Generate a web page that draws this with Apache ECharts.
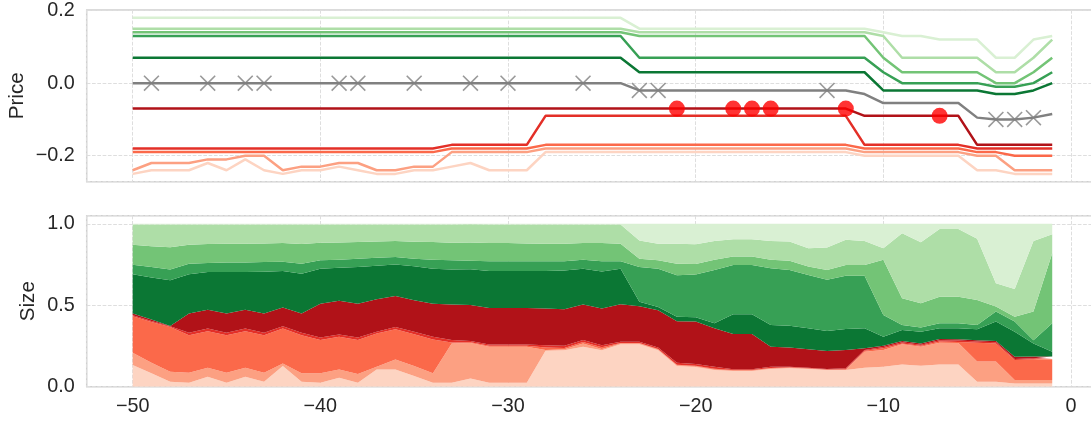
<!DOCTYPE html>
<html><head><meta charset="utf-8">
<script src="https://cdn.jsdelivr.net/npm/echarts@6/dist/echarts.min.js"></script>
<style>html,body{margin:0;padding:0;background:#fff}#c{width:1091px;height:421px}</style>
</head><body><div id="c"></div>
<script>
const times = [-50,-49,-48,-47,-46,-45,-44,-43,-42,-41,-40,-39,-38,-37,-36,-35,-34,-33,-32,-31,-30,-29,-28,-27,-26,-25,-24,-23,-22,-21,-20,-19,-18,-17,-16,-15,-14,-13,-12,-11,-10,-9,-8,-7,-6,-5,-4,-3,-2,-1];

// Price levels (top panel)
const ask1Price = [0.07,0.07,0.07,0.07,0.07,0.07,0.07,0.07,0.07,0.07, 0.07,0.07,0.07,0.07,0.07,0.07,0.07,0.07,0.07,0.07, 0.07,0.07,0.07,0.07,0.07,0.07,0.07,0.03,0.03,0.03, 0.03,0.03,0.03,0.03,0.03,0.03,0.03,0.03,0.03,0.03, -0.02,-0.02,-0.02,-0.02,-0.02,-0.02,-0.03,-0.03,-0.02,0.00];
const ask2Price = [0.13,0.13,0.13,0.13,0.13,0.13,0.13,0.13,0.13,0.13, 0.13,0.13,0.13,0.13,0.13,0.13,0.13,0.13,0.13,0.13, 0.13,0.13,0.13,0.13,0.13,0.13,0.13,0.07,0.07,0.07, 0.07,0.07,0.07,0.07,0.07,0.07,0.07,0.07,0.07,0.07, 0.03,0.00,0.00,0.00,0.00,0.00,-0.01,-0.01,0.00,0.03];
const ask3Price = [0.14,0.14,0.14,0.14,0.14,0.14,0.14,0.14,0.14,0.14, 0.14,0.14,0.14,0.14,0.14,0.14,0.14,0.14,0.14,0.14, 0.14,0.14,0.14,0.14,0.14,0.14,0.14,0.13,0.13,0.13, 0.13,0.13,0.13,0.13,0.13,0.13,0.13,0.13,0.13,0.13, 0.07,0.03,0.03,0.03,0.03,0.03,0.00,0.00,0.03,0.07];
const ask4Price = [0.15,0.15,0.15,0.15,0.15,0.15,0.15,0.15,0.15,0.15, 0.15,0.15,0.15,0.15,0.15,0.15,0.15,0.15,0.15,0.15, 0.15,0.15,0.15,0.15,0.15,0.15,0.15,0.14,0.14,0.14, 0.14,0.14,0.14,0.14,0.14,0.14,0.14,0.14,0.14,0.14, 0.13,0.07,0.07,0.07,0.07,0.07,0.03,0.03,0.07,0.12];
const ask5Price = [0.18,0.18,0.18,0.18,0.18,0.18,0.18,0.18,0.18,0.18, 0.18,0.18,0.18,0.18,0.18,0.18,0.18,0.18,0.18,0.18, 0.18,0.18,0.18,0.18,0.18,0.18,0.18,0.15,0.15,0.15, 0.15,0.15,0.15,0.15,0.15,0.15,0.15,0.15,0.15,0.15, 0.14,0.13,0.13,0.12,0.12,0.12,0.07,0.07,0.12,0.13];
const bid1Price = [-0.07,-0.07,-0.07,-0.07,-0.07,-0.07,-0.07,-0.07,-0.07,-0.07, -0.07,-0.07,-0.07,-0.07,-0.07,-0.07,-0.07,-0.07,-0.07,-0.07, -0.07,-0.07,-0.07,-0.07,-0.07,-0.07,-0.07,-0.07,-0.07,-0.07, -0.07,-0.07,-0.07,-0.07,-0.07,-0.07,-0.07,-0.07,-0.07,-0.09, -0.09,-0.09,-0.09,-0.09,-0.09,-0.17,-0.17,-0.17,-0.17,-0.17];
const bid2Price = [-0.18,-0.18,-0.18,-0.18,-0.18,-0.18,-0.18,-0.18,-0.18,-0.18, -0.18,-0.18,-0.18,-0.18,-0.18,-0.18,-0.18,-0.17,-0.17,-0.17, -0.17,-0.17,-0.09,-0.09,-0.09,-0.09,-0.09,-0.09,-0.09,-0.09, -0.09,-0.09,-0.09,-0.09,-0.09,-0.09,-0.09,-0.09,-0.09,-0.17, -0.17,-0.17,-0.17,-0.17,-0.17,-0.18,-0.18,-0.18,-0.18,-0.18];
const bid3Price = [-0.19,-0.19,-0.19,-0.19,-0.19,-0.19,-0.19,-0.19,-0.19,-0.19, -0.19,-0.19,-0.19,-0.19,-0.19,-0.19,-0.19,-0.18,-0.18,-0.18, -0.18,-0.18,-0.17,-0.17,-0.17,-0.17,-0.17,-0.17,-0.17,-0.17, -0.17,-0.17,-0.17,-0.17,-0.17,-0.17,-0.17,-0.17,-0.17,-0.18, -0.18,-0.18,-0.18,-0.18,-0.18,-0.19,-0.19,-0.20,-0.20,-0.20];
const bid4Price = [-0.24,-0.22,-0.22,-0.22,-0.21,-0.21,-0.20,-0.20,-0.24,-0.23, -0.23,-0.22,-0.22,-0.24,-0.24,-0.23,-0.23,-0.19,-0.19,-0.19, -0.19,-0.19,-0.18,-0.18,-0.18,-0.18,-0.18,-0.18,-0.18,-0.18, -0.18,-0.18,-0.18,-0.18,-0.18,-0.18,-0.18,-0.18,-0.18,-0.19, -0.19,-0.19,-0.19,-0.19,-0.19,-0.20,-0.20,-0.24,-0.24,-0.24];
const bid5Price = [-0.25,-0.24,-0.24,-0.24,-0.22,-0.24,-0.21,-0.24,-0.25,-0.24, -0.24,-0.23,-0.24,-0.25,-0.25,-0.24,-0.24,-0.23,-0.22,-0.24, -0.24,-0.24,-0.19,-0.19,-0.19,-0.19,-0.19,-0.19,-0.19,-0.19, -0.19,-0.19,-0.19,-0.19,-0.19,-0.19,-0.19,-0.19,-0.19,-0.20, -0.20,-0.20,-0.20,-0.20,-0.20,-0.24,-0.24,-0.25,-0.25,-0.25];
const midPrice = [0,0,0,0,0,0,0,0,0,0, 0,0,0,0,0,0,0,0,0,0, 0,0,0,0,0,0,0,-0.02,-0.02,-0.02, -0.02,-0.02,-0.02,-0.02,-0.02,-0.02,-0.02,-0.02,-0.02,-0.03, -0.055,-0.055,-0.055,-0.055,-0.055,-0.095,-0.10,-0.10,-0.095,-0.085];

// event times
const crossTimes = [-49,-46,-44,-43,-39,-38,-35,-32,-30,-26,-23,-22,-13,-4,-3,-2];
const tradeTimes = [-21,-18,-17,-16,-12,-7];

// Normalised sizes (bottom panel), stacked bid5 -> ask5
const bid5Size = [0.133,0.082,0.031,0.024,0.061,0.024,0.061,0.031,0.127,0.031, 0.024,0.055,0.024,0.106,0.106,0.065,0.024,0.024,0.051,0.024, 0.024,0.024,0.220,0.224,0.245,0.224,0.261,0.261,0.224,0.127, 0.121,0.102,0.096,0.096,0.109,0.113,0.109,0.102,0.102,0.117, 0.123,0.137,0.129,0.137,0.137,0.031,0.031,0.020,0.020,0.020];
const bid4Size = [0.075,0.065,0.061,0.062,0.055,0.062,0.055,0.055,0.016,0.051, 0.058,0.051,0.054,0.016,0.061,0.062,0.058,0.241,0.218,0.221, 0.221,0.221,0.006,0.006,0.020,0.008,0.004,0.004,0.004,0.004, 0.004,0.004,0.003,0.003,0.003,0.003,0.002,0.002,0.002,0.098, 0.102,0.123,0.117,0.133,0.131,0.123,0.123,0.021,0.021,0.021];
const bid3Size = [0.225,0.251,0.275,0.230,0.225,0.230,0.225,0.230,0.214,0.234, 0.204,0.200,0.208,0.205,0.186,0.195,0.208,0.006,0.004,0.006, 0.006,0.006,0.015,0.008,0.010,0.010,0.003,0.003,0.003,0.004, 0.004,0.004,0.003,0.003,0.003,0.003,0.002,0.002,0.003,0.005, 0.011,0.006,0.006,0.007,0.007,0.116,0.112,0.123,0.127,0.127];
const bid2Size = [0.006,0.006,0.004,0.015,0.016,0.015,0.016,0.015,0.014,0.015, 0.016,0.014,0.016,0.010,0.014,0.015,0.016,0.015,0.008,0.008, 0.008,0.008,0.014,0.013,0.011,0.013,0.008,0.008,0.009,0.012, 0.010,0.013,0.005,0.005,0.008,0.004,0.004,0.003,0.006,0.006, 0.008,0.007,0.006,0.008,0.008,0.007,0.007,0.006,0.006,0.006];
const bid1Size = [0.010,0.008,0.002,0.118,0.116,0.118,0.116,0.118,0.115,0.118, 0.208,0.207,0.208,0.200,0.190,0.194,0.204,0.218,0.220,0.225, 0.225,0.225,0.225,0.225,0.218,0.225,0.230,0.218,0.229,0.255, 0.261,0.236,0.217,0.217,0.123,0.117,0.113,0.110,0.112,0.010, 0.008,0.008,0.008,0.008,0.008,0.008,0.008,0.014,0.012,0.012];
const ask1Size = [0.241,0.259,0.280,0.241,0.231,0.255,0.231,0.257,0.224,0.245, 0.214,0.204,0.225,0.206,0.194,0.208,0.214,0.216,0.220,0.226, 0.226,0.226,0.230,0.238,0.220,0.228,0.218,0.028,0.021,0.027, 0.026,0.030,0.121,0.121,0.133,0.135,0.129,0.123,0.130,0.123, 0.055,0.067,0.072,0.066,0.068,0.067,0.119,0.154,0.080,0.029];
const ask2Size = [0.059,0.064,0.067,0.065,0.055,0.059,0.059,0.059,0.057,0.061, 0.052,0.049,0.051,0.049,0.045,0.047,0.056,0.056,0.053,0.061, 0.061,0.061,0.061,0.057,0.056,0.063,0.047,0.213,0.234,0.255, 0.263,0.328,0.303,0.303,0.348,0.342,0.327,0.314,0.327,0.323, 0.134,0.031,0.025,0.030,0.030,0.027,0.061,0.062,0.019,0.174];
const ask3Size = [0.122,0.128,0.137,0.116,0.117,0.115,0.115,0.115,0.115,0.121, 0.108,0.106,0.102,0.100,0.098,0.104,0.108,0.108,0.111,0.111, 0.111,0.109,0.107,0.107,0.102,0.111,0.107,0.051,0.052,0.071, 0.065,0.062,0.052,0.052,0.052,0.056,0.052,0.061,0.066,0.066, 0.338,0.164,0.149,0.164,0.164,0.154,0.031,0.030,0.176,0.431];
const ask4Size = [0.125,0.133,0.139,0.125,0.120,0.118,0.118,0.116,0.114,0.120, 0.112,0.110,0.108,0.104,0.102,0.106,0.108,0.112,0.112,0.114, 0.114,0.116,0.118,0.118,0.114,0.114,0.118,0.112,0.102,0.123, 0.121,0.116,0.106,0.106,0.116,0.118,0.112,0.138,0.154,0.147, 0.071,0.400,0.375,0.416,0.416,0.375,0.143,0.170,0.434,0.116];
const ask5Size = [0.004,0.004,0.004,0.004,0.004,0.004,0.004,0.004,0.004,0.004, 0.004,0.004,0.004,0.004,0.004,0.004,0.004,0.004,0.004,0.004, 0.004,0.004,0.004,0.004,0.004,0.004,0.004,0.102,0.122,0.122, 0.125,0.105,0.094,0.094,0.105,0.109,0.150,0.145,0.098,0.105, 0.150,0.057,0.113,0.031,0.031,0.092,0.365,0.400,0.105,0.064];

const redColors = ['#b11218', '#e32f27', '#fb694a', '#fca082', '#fdd4c2']; // bid1..bid5
const greenColors = ['#0b7734', '#37a055', '#73c476', '#aedea7', '#d9f0d3']; // ask1..ask5

const bidPrices = [bid1Price, bid2Price, bid3Price, bid4Price, bid5Price];
const askPrices = [ask1Price, ask2Price, ask3Price, ask4Price, ask5Price];
const stackSizes = [bid5Size, bid4Size, bid3Size, bid2Size, bid1Size, ask1Size, ask2Size, ask3Size, ask4Size, ask5Size];
const stackColors = [redColors[4], redColors[3], redColors[2], redColors[1], redColors[0], greenColors[0], greenColors[1], greenColors[2], greenColors[3], greenColors[4]];

const FONT = 'Liberation Sans, Arial, sans-serif';
const TXT = '#262626';
const minus = s => String(s).replace('-', '\u2212');
const pairs = arr => times.map((t, i) => [t, arr[i]]);

const series = [];
for (let k = 4; k >= 0; k--) {
  series.push({type:'line', xAxisIndex:0, yAxisIndex:0, data: pairs(bidPrices[k]), symbol:'none',
    lineStyle:{color: redColors[k], width:2.5}, z: 2 + (4 - k) * 0.01, silent:true});
}
for (let k = 4; k >= 0; k--) {
  series.push({type:'line', xAxisIndex:0, yAxisIndex:0, data: pairs(askPrices[k]), symbol:'none',
    lineStyle:{color: greenColors[k], width:2.5}, z: 2.1 + (4 - k) * 0.01, silent:true});
}
series.push({type:'line', xAxisIndex:0, yAxisIndex:0, data: pairs(midPrice), symbol:'none',
  lineStyle:{color:'#808080', width:2.5}, z:3, silent:true});
series.push({type:'scatter', xAxisIndex:0, yAxisIndex:0,
  data: crossTimes.map(t => [t, midPrice[times.indexOf(t)]]),
  symbol:'path://M7,0 L50,43 L93,0 L100,7 L57,50 L100,93 L93,100 L50,57 L7,100 L0,93 L43,50 L0,7 Z',
  symbolSize:16, itemStyle:{color:'#808080'}, z:4, silent:true});
series.push({type:'scatter', xAxisIndex:0, yAxisIndex:0,
  data: tradeTimes.map(t => [t, bid1Price[times.indexOf(t)]]),
  symbol:'circle', symbolSize:16, itemStyle:{color:'#ff0000'}, z:5, silent:true});

// size value in column 0 (so the library stacks the y dimension), time in column 1
stackSizes.forEach((s, i) => {
  series.push({type:'line', xAxisIndex:1, yAxisIndex:1, stack:'size',
    data: times.map((t, j) => [s[j], t]), encode:{x:1, y:0}, symbol:'none',
    lineStyle:{width:0}, areaStyle:{color: stackColors[i], opacity:1}, silent:true});
});

const splitLine = {show:true, lineStyle:{color:'#dedede', width:1, type:[3.7,1.6]}};
const gridCommon = {left:86.7, right:-7.2, show:true, borderColor:'#cfcfcf', borderWidth:1.5, backgroundColor:'transparent', outerBoundsMode:'none'};

const xCommon = {type:'value', min:-52.45, max:1.45, splitNumber:5,
  axisLine:{show:false}, axisTick:{show:false}, splitLine: splitLine};

const option = {
  animation:false,
  grid:[
    Object.assign({top:10, height:171.7}, gridCommon),
    Object.assign({top:215.7, height:171}, gridCommon)
  ],
  xAxis:[
    Object.assign({gridIndex:0, axisLabel:{show:false}}, xCommon),
    Object.assign({gridIndex:1, axisLabel:{show:true, showMinLabel:false, showMaxLabel:false, margin:10,
      fontSize:19.8, color:TXT, fontFamily:FONT, formatter: v => minus(Math.round(v))}}, xCommon)
  ],
  yAxis:[
    {type:'value', gridIndex:0, min:-0.2715, max:0.2015, splitNumber:2,
     axisLine:{show:false}, axisTick:{show:false}, splitLine: splitLine,
     axisLabel:{showMinLabel:false, showMaxLabel:false, margin:12, fontSize:19.8, color:TXT, fontFamily:FONT,
       formatter: v => minus(v.toFixed(1))}},
    {type:'value', gridIndex:1, min:0, max:1.05, splitNumber:2,
     axisLine:{show:false}, axisTick:{show:false}, splitLine: splitLine,
     axisLabel:{showMinLabel:true, showMaxLabel:false, margin:12, fontSize:19.8, color:TXT, fontFamily:FONT,
       formatter: v => v.toFixed(1)}}
  ],
  graphic:[
    {type:'text', x:17, y:95.8, rotation:Math.PI/2, silent:true,
     style:{text:'Price', fontSize:20.7, fontFamily:FONT, fill:TXT, align:'center', verticalAlign:'middle'}},
    {type:'text', x:28, y:301.2, rotation:Math.PI/2, silent:true,
     style:{text:'Size', fontSize:20.7, fontFamily:FONT, fill:TXT, align:'center', verticalAlign:'middle'}}
  ],
  series: series
};
const chart = echarts.init(document.getElementById('c'), null, {renderer:'canvas'});
chart.setOption(option);
</script></body></html>
